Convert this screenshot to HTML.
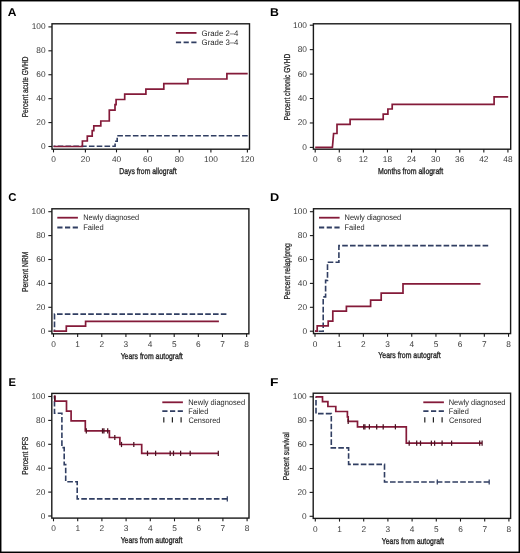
<!DOCTYPE html><html><head><meta charset="utf-8"><style>html,body{margin:0;padding:0;background:#fff;}svg{display:block;will-change:transform;text-rendering:geometricPrecision;}</style></head><body>
<svg width="520" height="553" viewBox="0 0 520 553" font-family='"Liberation Sans", sans-serif'>
<rect x="0" y="0" width="520" height="553" fill="#fff"/>
<rect x="0.7" y="0.7" width="518.6" height="551.6" fill="none" stroke="#000" stroke-width="1.5"/>
<text x="7.80" y="15.90" font-size="11.3" font-weight="bold" fill="#000" textLength="8.72" lengthAdjust="spacingAndGlyphs">A</text>
<rect x="52" y="23.8" width="197.50" height="125.40" fill="none" stroke="#1a1a1a" stroke-width="1.4"/>
<line x1="48.40" y1="146.50" x2="52" y2="146.50" stroke="#1a1a1a" stroke-width="1.1"/>
<text x="45.50" y="149.00" font-size="8.3" text-anchor="end" fill="#383838">0</text>
<line x1="48.40" y1="122.58" x2="52" y2="122.58" stroke="#1a1a1a" stroke-width="1.1"/>
<text x="45.50" y="125.08" font-size="8.3" text-anchor="end" fill="#383838">20</text>
<line x1="48.40" y1="98.66" x2="52" y2="98.66" stroke="#1a1a1a" stroke-width="1.1"/>
<text x="45.50" y="101.16" font-size="8.3" text-anchor="end" fill="#383838">40</text>
<line x1="48.40" y1="74.74" x2="52" y2="74.74" stroke="#1a1a1a" stroke-width="1.1"/>
<text x="45.50" y="77.24" font-size="8.3" text-anchor="end" fill="#383838">60</text>
<line x1="48.40" y1="50.82" x2="52" y2="50.82" stroke="#1a1a1a" stroke-width="1.1"/>
<text x="45.50" y="53.32" font-size="8.3" text-anchor="end" fill="#383838">80</text>
<line x1="48.40" y1="26.90" x2="52" y2="26.90" stroke="#1a1a1a" stroke-width="1.1"/>
<text x="45.50" y="29.40" font-size="8.3" text-anchor="end" fill="#383838">100</text>
<line x1="53.50" y1="149.2" x2="53.50" y2="152.40" stroke="#1a1a1a" stroke-width="1.1"/>
<text x="53.50" y="161.80" font-size="8.3" text-anchor="middle" fill="#383838">0</text>
<line x1="85.40" y1="149.2" x2="85.40" y2="152.40" stroke="#1a1a1a" stroke-width="1.1"/>
<text x="85.40" y="161.80" font-size="8.3" text-anchor="middle" fill="#383838">20</text>
<line x1="116.50" y1="149.2" x2="116.50" y2="152.40" stroke="#1a1a1a" stroke-width="1.1"/>
<text x="116.50" y="161.80" font-size="8.3" text-anchor="middle" fill="#383838">40</text>
<line x1="147.70" y1="149.2" x2="147.70" y2="152.40" stroke="#1a1a1a" stroke-width="1.1"/>
<text x="147.70" y="161.80" font-size="8.3" text-anchor="middle" fill="#383838">60</text>
<line x1="179.30" y1="149.2" x2="179.30" y2="152.40" stroke="#1a1a1a" stroke-width="1.1"/>
<text x="179.30" y="161.80" font-size="8.3" text-anchor="middle" fill="#383838">80</text>
<line x1="210.90" y1="149.2" x2="210.90" y2="152.40" stroke="#1a1a1a" stroke-width="1.1"/>
<text x="210.90" y="161.80" font-size="8.3" text-anchor="middle" fill="#383838">100</text>
<line x1="247.40" y1="149.2" x2="247.40" y2="152.40" stroke="#1a1a1a" stroke-width="1.1"/>
<text x="247.40" y="161.80" font-size="8.3" text-anchor="middle" fill="#383838">120</text>
<text x="28.30" y="117.23" font-size="8.6" fill="#2a2a2a" textLength="60.74" lengthAdjust="spacingAndGlyphs" transform="rotate(-90 28.30 117.23)" stroke="#2a2a2a" stroke-width="0.3">Percent acute GVHD</text>
<text x="119.24" y="173.50" font-size="8.6" font-weight="normal" fill="#2a2a2a" textLength="57.31" lengthAdjust="spacingAndGlyphs" stroke="#2a2a2a" stroke-width="0.35">Days from allograft</text>
<path d="M53.50,146.30 L115.10,146.30 L115.10,141.30 L117.20,141.30 L117.20,135.70 L247.70,135.70" fill="none" stroke="#303e62" stroke-width="1.6" stroke-linejoin="miter" stroke-linecap="butt" stroke-dasharray="5.6 2.2" stroke-dashoffset="3.60"/>
<path d="M53.50,146.50 L82.40,146.50 L82.40,141.00 L87.30,141.00 L87.30,136.10 L92.20,136.10 L92.20,130.70 L93.80,130.70 L93.80,125.90 L100.80,125.90 L100.80,121.00 L109.30,121.00 L109.30,110.10 L115.00,110.10 L115.00,104.70 L116.10,104.70 L116.10,99.50 L124.70,99.50 L124.70,94.10 L145.90,94.10 L145.90,89.10 L163.80,89.10 L163.80,83.70 L187.90,83.70 L187.90,79.00 L226.90,79.00 L226.90,73.60 L247.70,73.60" fill="none" stroke="#841a39" stroke-width="1.7" stroke-linejoin="miter" stroke-linecap="butt"/>
<line x1="175.9" y1="32.9" x2="196.50" y2="32.9" stroke="#841a39" stroke-width="1.8"/>
<line x1="175.9" y1="42.4" x2="196.50" y2="42.4" stroke="#303e62" stroke-width="1.8" stroke-dasharray="5.2 2.5"/>
<text x="201.61" y="35.50" font-size="8.0" font-weight="normal" fill="#1e1e1e" textLength="36.82" lengthAdjust="spacingAndGlyphs">Grade 2–4</text>
<text x="201.61" y="44.70" font-size="8.0" font-weight="normal" fill="#1e1e1e" textLength="36.82" lengthAdjust="spacingAndGlyphs">Grade 3–4</text>
<text x="269.98" y="15.90" font-size="11.3" font-weight="bold" fill="#000" textLength="8.88" lengthAdjust="spacingAndGlyphs">B</text>
<rect x="313.4" y="23.8" width="197.30" height="125.40" fill="none" stroke="#1a1a1a" stroke-width="1.4"/>
<line x1="309.80" y1="147.40" x2="313.4" y2="147.40" stroke="#1a1a1a" stroke-width="1.1"/>
<text x="306.90" y="149.90" font-size="8.3" text-anchor="end" fill="#383838">0</text>
<line x1="309.80" y1="122.96" x2="313.4" y2="122.96" stroke="#1a1a1a" stroke-width="1.1"/>
<text x="306.90" y="125.46" font-size="8.3" text-anchor="end" fill="#383838">20</text>
<line x1="309.80" y1="98.52" x2="313.4" y2="98.52" stroke="#1a1a1a" stroke-width="1.1"/>
<text x="306.90" y="101.02" font-size="8.3" text-anchor="end" fill="#383838">40</text>
<line x1="309.80" y1="74.08" x2="313.4" y2="74.08" stroke="#1a1a1a" stroke-width="1.1"/>
<text x="306.90" y="76.58" font-size="8.3" text-anchor="end" fill="#383838">60</text>
<line x1="309.80" y1="49.64" x2="313.4" y2="49.64" stroke="#1a1a1a" stroke-width="1.1"/>
<text x="306.90" y="52.14" font-size="8.3" text-anchor="end" fill="#383838">80</text>
<line x1="309.80" y1="25.20" x2="313.4" y2="25.20" stroke="#1a1a1a" stroke-width="1.1"/>
<text x="306.90" y="27.70" font-size="8.3" text-anchor="end" fill="#383838">100</text>
<line x1="315.20" y1="149.2" x2="315.20" y2="152.40" stroke="#1a1a1a" stroke-width="1.1"/>
<text x="315.20" y="161.80" font-size="8.3" text-anchor="middle" fill="#383838">0</text>
<line x1="339.29" y1="149.2" x2="339.29" y2="152.40" stroke="#1a1a1a" stroke-width="1.1"/>
<text x="339.29" y="161.80" font-size="8.3" text-anchor="middle" fill="#383838">6</text>
<line x1="363.38" y1="149.2" x2="363.38" y2="152.40" stroke="#1a1a1a" stroke-width="1.1"/>
<text x="363.38" y="161.80" font-size="8.3" text-anchor="middle" fill="#383838">12</text>
<line x1="387.47" y1="149.2" x2="387.47" y2="152.40" stroke="#1a1a1a" stroke-width="1.1"/>
<text x="387.47" y="161.80" font-size="8.3" text-anchor="middle" fill="#383838">18</text>
<line x1="411.56" y1="149.2" x2="411.56" y2="152.40" stroke="#1a1a1a" stroke-width="1.1"/>
<text x="411.56" y="161.80" font-size="8.3" text-anchor="middle" fill="#383838">24</text>
<line x1="435.65" y1="149.2" x2="435.65" y2="152.40" stroke="#1a1a1a" stroke-width="1.1"/>
<text x="435.65" y="161.80" font-size="8.3" text-anchor="middle" fill="#383838">30</text>
<line x1="459.74" y1="149.2" x2="459.74" y2="152.40" stroke="#1a1a1a" stroke-width="1.1"/>
<text x="459.74" y="161.80" font-size="8.3" text-anchor="middle" fill="#383838">36</text>
<line x1="483.83" y1="149.2" x2="483.83" y2="152.40" stroke="#1a1a1a" stroke-width="1.1"/>
<text x="483.83" y="161.80" font-size="8.3" text-anchor="middle" fill="#383838">42</text>
<line x1="507.92" y1="149.2" x2="507.92" y2="152.40" stroke="#1a1a1a" stroke-width="1.1"/>
<text x="507.92" y="161.80" font-size="8.3" text-anchor="middle" fill="#383838">48</text>
<text x="290.00" y="120.44" font-size="8.6" fill="#2a2a2a" textLength="66.66" lengthAdjust="spacingAndGlyphs" transform="rotate(-90 290.00 120.44)" stroke="#2a2a2a" stroke-width="0.3">Percent chronic GVHD</text>
<text x="377.93" y="173.80" font-size="8.6" font-weight="normal" fill="#2a2a2a" textLength="65.22" lengthAdjust="spacingAndGlyphs" stroke="#2a2a2a" stroke-width="0.35">Months from allograft</text>
<path d="M315.20,147.40 L332.40,147.40 L333.60,133.50 L337.00,133.50 L337.00,124.30 L350.10,124.30 L350.10,119.40 L383.20,119.40 L383.20,114.20 L387.90,114.20 L387.90,109.00 L392.20,109.00 L392.20,104.30 L494.10,104.30 L494.10,96.80 L508.20,96.80" fill="none" stroke="#841a39" stroke-width="1.7" stroke-linejoin="miter" stroke-linecap="butt"/>
<text x="8.23" y="200.90" font-size="11.3" font-weight="bold" fill="#000" textLength="8.28" lengthAdjust="spacingAndGlyphs">C</text>
<rect x="51.9" y="208.8" width="197.00" height="125.00" fill="none" stroke="#1a1a1a" stroke-width="1.4"/>
<line x1="48.30" y1="331.20" x2="51.9" y2="331.20" stroke="#1a1a1a" stroke-width="1.1"/>
<text x="45.40" y="333.70" font-size="8.3" text-anchor="end" fill="#383838">0</text>
<line x1="48.30" y1="307.30" x2="51.9" y2="307.30" stroke="#1a1a1a" stroke-width="1.1"/>
<text x="45.40" y="309.80" font-size="8.3" text-anchor="end" fill="#383838">20</text>
<line x1="48.30" y1="283.40" x2="51.9" y2="283.40" stroke="#1a1a1a" stroke-width="1.1"/>
<text x="45.40" y="285.90" font-size="8.3" text-anchor="end" fill="#383838">40</text>
<line x1="48.30" y1="259.50" x2="51.9" y2="259.50" stroke="#1a1a1a" stroke-width="1.1"/>
<text x="45.40" y="262.00" font-size="8.3" text-anchor="end" fill="#383838">60</text>
<line x1="48.30" y1="235.60" x2="51.9" y2="235.60" stroke="#1a1a1a" stroke-width="1.1"/>
<text x="45.40" y="238.10" font-size="8.3" text-anchor="end" fill="#383838">80</text>
<line x1="48.30" y1="211.70" x2="51.9" y2="211.70" stroke="#1a1a1a" stroke-width="1.1"/>
<text x="45.40" y="214.20" font-size="8.3" text-anchor="end" fill="#383838">100</text>
<line x1="53.50" y1="333.8" x2="53.50" y2="337.00" stroke="#1a1a1a" stroke-width="1.1"/>
<text x="53.50" y="347.00" font-size="8.3" text-anchor="middle" fill="#383838">0</text>
<line x1="77.64" y1="333.8" x2="77.64" y2="337.00" stroke="#1a1a1a" stroke-width="1.1"/>
<text x="77.64" y="347.00" font-size="8.3" text-anchor="middle" fill="#383838">1</text>
<line x1="101.78" y1="333.8" x2="101.78" y2="337.00" stroke="#1a1a1a" stroke-width="1.1"/>
<text x="101.78" y="347.00" font-size="8.3" text-anchor="middle" fill="#383838">2</text>
<line x1="125.92" y1="333.8" x2="125.92" y2="337.00" stroke="#1a1a1a" stroke-width="1.1"/>
<text x="125.92" y="347.00" font-size="8.3" text-anchor="middle" fill="#383838">3</text>
<line x1="150.06" y1="333.8" x2="150.06" y2="337.00" stroke="#1a1a1a" stroke-width="1.1"/>
<text x="150.06" y="347.00" font-size="8.3" text-anchor="middle" fill="#383838">4</text>
<line x1="174.20" y1="333.8" x2="174.20" y2="337.00" stroke="#1a1a1a" stroke-width="1.1"/>
<text x="174.20" y="347.00" font-size="8.3" text-anchor="middle" fill="#383838">5</text>
<line x1="198.34" y1="333.8" x2="198.34" y2="337.00" stroke="#1a1a1a" stroke-width="1.1"/>
<text x="198.34" y="347.00" font-size="8.3" text-anchor="middle" fill="#383838">6</text>
<line x1="222.48" y1="333.8" x2="222.48" y2="337.00" stroke="#1a1a1a" stroke-width="1.1"/>
<text x="222.48" y="347.00" font-size="8.3" text-anchor="middle" fill="#383838">7</text>
<line x1="246.62" y1="333.8" x2="246.62" y2="337.00" stroke="#1a1a1a" stroke-width="1.1"/>
<text x="246.62" y="347.00" font-size="8.3" text-anchor="middle" fill="#383838">8</text>
<text x="27.80" y="291.95" font-size="8.6" fill="#2a2a2a" textLength="40.30" lengthAdjust="spacingAndGlyphs" transform="rotate(-90 27.80 291.95)" stroke="#2a2a2a" stroke-width="0.3">Percent NRM</text>
<text x="120.65" y="358.50" font-size="8.6" font-weight="normal" fill="#2a2a2a" textLength="62.10" lengthAdjust="spacingAndGlyphs" stroke="#2a2a2a" stroke-width="0.35">Years from autograft</text>
<path d="M53.80,331.20 L54.50,331.20 L54.50,314.10 L226.40,314.10" fill="none" stroke="#303e62" stroke-width="1.6" stroke-linejoin="miter" stroke-linecap="butt" stroke-dasharray="5.6 2.2" stroke-dashoffset="3.10"/>
<path d="M53.50,331.20 L66.30,331.20 L66.30,326.20 L85.60,326.20 L85.60,321.30 L218.90,321.30" fill="none" stroke="#841a39" stroke-width="1.7" stroke-linejoin="miter" stroke-linecap="butt"/>
<line x1="57.3" y1="217.7" x2="77.90" y2="217.7" stroke="#841a39" stroke-width="1.8"/>
<line x1="57.3" y1="227.5" x2="77.90" y2="227.5" stroke="#303e62" stroke-width="1.8" stroke-dasharray="5.2 2.5"/>
<text x="83.15" y="220.00" font-size="8.0" font-weight="normal" fill="#1e1e1e" textLength="56.08" lengthAdjust="spacingAndGlyphs">Newly diagnosed</text>
<text x="83.13" y="229.75" font-size="8.0" font-weight="normal" fill="#1e1e1e" textLength="20.50" lengthAdjust="spacingAndGlyphs">Failed</text>
<text x="270.05" y="200.70" font-size="11.3" font-weight="bold" fill="#000" textLength="9.18" lengthAdjust="spacingAndGlyphs">D</text>
<rect x="313.5" y="208.75" width="197.10" height="124.85" fill="none" stroke="#1a1a1a" stroke-width="1.4"/>
<line x1="309.90" y1="331.20" x2="313.5" y2="331.20" stroke="#1a1a1a" stroke-width="1.1"/>
<text x="307.00" y="333.70" font-size="8.3" text-anchor="end" fill="#383838">0</text>
<line x1="309.90" y1="307.30" x2="313.5" y2="307.30" stroke="#1a1a1a" stroke-width="1.1"/>
<text x="307.00" y="309.80" font-size="8.3" text-anchor="end" fill="#383838">20</text>
<line x1="309.90" y1="283.40" x2="313.5" y2="283.40" stroke="#1a1a1a" stroke-width="1.1"/>
<text x="307.00" y="285.90" font-size="8.3" text-anchor="end" fill="#383838">40</text>
<line x1="309.90" y1="259.50" x2="313.5" y2="259.50" stroke="#1a1a1a" stroke-width="1.1"/>
<text x="307.00" y="262.00" font-size="8.3" text-anchor="end" fill="#383838">60</text>
<line x1="309.90" y1="235.60" x2="313.5" y2="235.60" stroke="#1a1a1a" stroke-width="1.1"/>
<text x="307.00" y="238.10" font-size="8.3" text-anchor="end" fill="#383838">80</text>
<line x1="309.90" y1="211.70" x2="313.5" y2="211.70" stroke="#1a1a1a" stroke-width="1.1"/>
<text x="307.00" y="214.20" font-size="8.3" text-anchor="end" fill="#383838">100</text>
<line x1="315.00" y1="333.6" x2="315.00" y2="336.80" stroke="#1a1a1a" stroke-width="1.1"/>
<text x="315.00" y="346.80" font-size="8.3" text-anchor="middle" fill="#383838">0</text>
<line x1="339.19" y1="333.6" x2="339.19" y2="336.80" stroke="#1a1a1a" stroke-width="1.1"/>
<text x="339.19" y="346.80" font-size="8.3" text-anchor="middle" fill="#383838">1</text>
<line x1="363.38" y1="333.6" x2="363.38" y2="336.80" stroke="#1a1a1a" stroke-width="1.1"/>
<text x="363.38" y="346.80" font-size="8.3" text-anchor="middle" fill="#383838">2</text>
<line x1="387.57" y1="333.6" x2="387.57" y2="336.80" stroke="#1a1a1a" stroke-width="1.1"/>
<text x="387.57" y="346.80" font-size="8.3" text-anchor="middle" fill="#383838">3</text>
<line x1="411.76" y1="333.6" x2="411.76" y2="336.80" stroke="#1a1a1a" stroke-width="1.1"/>
<text x="411.76" y="346.80" font-size="8.3" text-anchor="middle" fill="#383838">4</text>
<line x1="435.95" y1="333.6" x2="435.95" y2="336.80" stroke="#1a1a1a" stroke-width="1.1"/>
<text x="435.95" y="346.80" font-size="8.3" text-anchor="middle" fill="#383838">5</text>
<line x1="460.14" y1="333.6" x2="460.14" y2="336.80" stroke="#1a1a1a" stroke-width="1.1"/>
<text x="460.14" y="346.80" font-size="8.3" text-anchor="middle" fill="#383838">6</text>
<line x1="484.33" y1="333.6" x2="484.33" y2="336.80" stroke="#1a1a1a" stroke-width="1.1"/>
<text x="484.33" y="346.80" font-size="8.3" text-anchor="middle" fill="#383838">7</text>
<line x1="508.52" y1="333.6" x2="508.52" y2="336.80" stroke="#1a1a1a" stroke-width="1.1"/>
<text x="508.52" y="346.80" font-size="8.3" text-anchor="middle" fill="#383838">8</text>
<text x="289.60" y="299.46" font-size="8.6" fill="#2a2a2a" textLength="56.40" lengthAdjust="spacingAndGlyphs" transform="rotate(-90 289.60 299.46)" stroke="#2a2a2a" stroke-width="0.3">Percent relap/prog</text>
<text x="378.35" y="358.40" font-size="8.6" font-weight="normal" fill="#2a2a2a" textLength="62.20" lengthAdjust="spacingAndGlyphs" stroke="#2a2a2a" stroke-width="0.35">Years from autograft</text>
<path d="M315.00,331.20 L323.20,331.20 L323.20,296.90 L325.60,296.90 L325.60,280.40 L327.50,280.40 L327.50,262.30 L338.90,262.30 L338.90,245.60 L488.20,245.60" fill="none" stroke="#303e62" stroke-width="1.6" stroke-linejoin="miter" stroke-linecap="butt" stroke-dasharray="5.6 2.2" stroke-dashoffset="4.20"/>
<path d="M315.00,331.20 L317.20,331.20 L317.20,325.80 L328.20,325.80 L328.20,321.20 L332.80,321.20 L332.80,311.10 L346.40,311.10 L346.40,306.40 L370.60,306.40 L370.60,300.10 L381.20,300.10 L381.20,293.10 L403.00,293.10 L403.00,283.90 L480.50,283.90" fill="none" stroke="#841a39" stroke-width="1.7" stroke-linejoin="miter" stroke-linecap="butt"/>
<line x1="319.0" y1="217.7" x2="339.60" y2="217.7" stroke="#841a39" stroke-width="1.8"/>
<line x1="319.0" y1="227.5" x2="339.60" y2="227.5" stroke="#303e62" stroke-width="1.8" stroke-dasharray="5.2 2.5"/>
<text x="344.59" y="220.00" font-size="8.0" font-weight="normal" fill="#1e1e1e" textLength="56.69" lengthAdjust="spacingAndGlyphs">Newly diagnosed</text>
<text x="344.60" y="229.75" font-size="8.0" font-weight="normal" fill="#1e1e1e" textLength="20.08" lengthAdjust="spacingAndGlyphs">Failed</text>
<text x="8.45" y="385.90" font-size="11.3" font-weight="bold" fill="#000" textLength="7.49" lengthAdjust="spacingAndGlyphs">E</text>
<rect x="51.8" y="393.4" width="197.20" height="124.70" fill="none" stroke="#1a1a1a" stroke-width="1.4"/>
<line x1="48.20" y1="516.00" x2="51.8" y2="516.00" stroke="#1a1a1a" stroke-width="1.1"/>
<text x="45.30" y="518.50" font-size="8.3" text-anchor="end" fill="#383838">0</text>
<line x1="48.20" y1="492.10" x2="51.8" y2="492.10" stroke="#1a1a1a" stroke-width="1.1"/>
<text x="45.30" y="494.60" font-size="8.3" text-anchor="end" fill="#383838">20</text>
<line x1="48.20" y1="468.20" x2="51.8" y2="468.20" stroke="#1a1a1a" stroke-width="1.1"/>
<text x="45.30" y="470.70" font-size="8.3" text-anchor="end" fill="#383838">40</text>
<line x1="48.20" y1="444.30" x2="51.8" y2="444.30" stroke="#1a1a1a" stroke-width="1.1"/>
<text x="45.30" y="446.80" font-size="8.3" text-anchor="end" fill="#383838">60</text>
<line x1="48.20" y1="420.40" x2="51.8" y2="420.40" stroke="#1a1a1a" stroke-width="1.1"/>
<text x="45.30" y="422.90" font-size="8.3" text-anchor="end" fill="#383838">80</text>
<line x1="48.20" y1="396.50" x2="51.8" y2="396.50" stroke="#1a1a1a" stroke-width="1.1"/>
<text x="45.30" y="399.00" font-size="8.3" text-anchor="end" fill="#383838">100</text>
<line x1="53.50" y1="518.1" x2="53.50" y2="521.30" stroke="#1a1a1a" stroke-width="1.1"/>
<text x="53.50" y="531.30" font-size="8.3" text-anchor="middle" fill="#383838">0</text>
<line x1="77.70" y1="518.1" x2="77.70" y2="521.30" stroke="#1a1a1a" stroke-width="1.1"/>
<text x="77.70" y="531.30" font-size="8.3" text-anchor="middle" fill="#383838">1</text>
<line x1="101.90" y1="518.1" x2="101.90" y2="521.30" stroke="#1a1a1a" stroke-width="1.1"/>
<text x="101.90" y="531.30" font-size="8.3" text-anchor="middle" fill="#383838">2</text>
<line x1="126.10" y1="518.1" x2="126.10" y2="521.30" stroke="#1a1a1a" stroke-width="1.1"/>
<text x="126.10" y="531.30" font-size="8.3" text-anchor="middle" fill="#383838">3</text>
<line x1="150.30" y1="518.1" x2="150.30" y2="521.30" stroke="#1a1a1a" stroke-width="1.1"/>
<text x="150.30" y="531.30" font-size="8.3" text-anchor="middle" fill="#383838">4</text>
<line x1="174.50" y1="518.1" x2="174.50" y2="521.30" stroke="#1a1a1a" stroke-width="1.1"/>
<text x="174.50" y="531.30" font-size="8.3" text-anchor="middle" fill="#383838">5</text>
<line x1="198.70" y1="518.1" x2="198.70" y2="521.30" stroke="#1a1a1a" stroke-width="1.1"/>
<text x="198.70" y="531.30" font-size="8.3" text-anchor="middle" fill="#383838">6</text>
<line x1="222.90" y1="518.1" x2="222.90" y2="521.30" stroke="#1a1a1a" stroke-width="1.1"/>
<text x="222.90" y="531.30" font-size="8.3" text-anchor="middle" fill="#383838">7</text>
<line x1="247.10" y1="518.1" x2="247.10" y2="521.30" stroke="#1a1a1a" stroke-width="1.1"/>
<text x="247.10" y="531.30" font-size="8.3" text-anchor="middle" fill="#383838">8</text>
<text x="27.80" y="474.75" font-size="8.6" fill="#2a2a2a" textLength="37.96" lengthAdjust="spacingAndGlyphs" transform="rotate(-90 27.80 474.75)" stroke="#2a2a2a" stroke-width="0.3">Percent PFS</text>
<text x="120.65" y="543.10" font-size="8.6" font-weight="normal" fill="#2a2a2a" textLength="61.70" lengthAdjust="spacingAndGlyphs" stroke="#2a2a2a" stroke-width="0.35">Years from autograft</text>
<path d="M54.50,396.30 L54.50,396.30 L54.50,413.30 L61.90,413.30 L61.90,447.60 L64.20,447.60 L64.20,464.60 L65.70,464.60 L65.70,481.70 L77.20,481.70 L77.20,498.90 L227.30,498.90" fill="none" stroke="#303e62" stroke-width="1.6" stroke-linejoin="miter" stroke-linecap="butt" stroke-dasharray="5.6 2.2" stroke-dashoffset="3.20"/>
<line x1="227.30" y1="496.30" x2="227.30" y2="501.50" stroke="#303e62" stroke-width="1.25"/>
<path d="M53.80,396.30 L55.00,396.30 L55.00,401.20 L66.50,401.20 L66.50,411.10 L71.10,411.10 L71.10,420.90 L85.30,420.90 L85.30,430.90 L109.40,430.90 L109.40,437.50 L119.90,437.50 L119.90,444.50 L141.70,444.50 L141.70,453.30 L218.30,453.30" fill="none" stroke="#841a39" stroke-width="1.7" stroke-linejoin="miter" stroke-linecap="butt"/>
<line x1="54.60" y1="395.60" x2="54.60" y2="400.80" stroke="#4a1020" stroke-width="1.25"/>
<line x1="86.30" y1="428.30" x2="86.30" y2="433.50" stroke="#4a1020" stroke-width="1.25"/>
<line x1="102.50" y1="428.30" x2="102.50" y2="433.50" stroke="#4a1020" stroke-width="1.25"/>
<line x1="103.90" y1="428.30" x2="103.90" y2="433.50" stroke="#4a1020" stroke-width="1.25"/>
<line x1="107.70" y1="428.30" x2="107.70" y2="433.50" stroke="#4a1020" stroke-width="1.25"/>
<line x1="114.80" y1="434.90" x2="114.80" y2="440.10" stroke="#4a1020" stroke-width="1.25"/>
<line x1="121.50" y1="441.90" x2="121.50" y2="447.10" stroke="#4a1020" stroke-width="1.25"/>
<line x1="133.80" y1="441.90" x2="133.80" y2="447.10" stroke="#4a1020" stroke-width="1.25"/>
<line x1="147.50" y1="450.70" x2="147.50" y2="455.90" stroke="#4a1020" stroke-width="1.25"/>
<line x1="155.60" y1="450.70" x2="155.60" y2="455.90" stroke="#4a1020" stroke-width="1.25"/>
<line x1="170.20" y1="450.70" x2="170.20" y2="455.90" stroke="#4a1020" stroke-width="1.25"/>
<line x1="173.50" y1="450.70" x2="173.50" y2="455.90" stroke="#4a1020" stroke-width="1.25"/>
<line x1="180.60" y1="450.70" x2="180.60" y2="455.90" stroke="#4a1020" stroke-width="1.25"/>
<line x1="190.20" y1="450.70" x2="190.20" y2="455.90" stroke="#4a1020" stroke-width="1.25"/>
<line x1="218.30" y1="450.70" x2="218.30" y2="455.90" stroke="#4a1020" stroke-width="1.25"/>
<line x1="162.3" y1="402.3" x2="182.90" y2="402.3" stroke="#841a39" stroke-width="1.8"/>
<line x1="162.3" y1="411.1" x2="182.90" y2="411.1" stroke="#303e62" stroke-width="1.8" stroke-dasharray="5.2 2.5"/>
<line x1="163.80" y1="417.30" x2="163.80" y2="422.50" stroke="#222" stroke-width="1.2"/>
<line x1="172.40" y1="417.30" x2="172.40" y2="422.50" stroke="#222" stroke-width="1.2"/>
<line x1="181.10" y1="417.30" x2="181.10" y2="422.50" stroke="#222" stroke-width="1.2"/>
<text x="188.19" y="405.00" font-size="8.0" font-weight="normal" fill="#1e1e1e" textLength="56.89" lengthAdjust="spacingAndGlyphs">Newly diagnosed</text>
<text x="188.20" y="413.80" font-size="8.0" font-weight="normal" fill="#1e1e1e" textLength="20.08" lengthAdjust="spacingAndGlyphs">Failed</text>
<text x="188.43" y="422.80" font-size="8.0" font-weight="normal" fill="#1e1e1e" textLength="31.95" lengthAdjust="spacingAndGlyphs">Censored</text>
<text x="269.98" y="385.90" font-size="11.3" font-weight="bold" fill="#000" textLength="8.43" lengthAdjust="spacingAndGlyphs">F</text>
<rect x="313.2" y="393.2" width="197.40" height="125.20" fill="none" stroke="#1a1a1a" stroke-width="1.4"/>
<line x1="309.60" y1="516.30" x2="313.2" y2="516.30" stroke="#1a1a1a" stroke-width="1.1"/>
<text x="306.70" y="518.80" font-size="8.3" text-anchor="end" fill="#383838">0</text>
<line x1="309.60" y1="492.40" x2="313.2" y2="492.40" stroke="#1a1a1a" stroke-width="1.1"/>
<text x="306.70" y="494.90" font-size="8.3" text-anchor="end" fill="#383838">20</text>
<line x1="309.60" y1="468.50" x2="313.2" y2="468.50" stroke="#1a1a1a" stroke-width="1.1"/>
<text x="306.70" y="471.00" font-size="8.3" text-anchor="end" fill="#383838">40</text>
<line x1="309.60" y1="444.60" x2="313.2" y2="444.60" stroke="#1a1a1a" stroke-width="1.1"/>
<text x="306.70" y="447.10" font-size="8.3" text-anchor="end" fill="#383838">60</text>
<line x1="309.60" y1="420.70" x2="313.2" y2="420.70" stroke="#1a1a1a" stroke-width="1.1"/>
<text x="306.70" y="423.20" font-size="8.3" text-anchor="end" fill="#383838">80</text>
<line x1="309.60" y1="396.80" x2="313.2" y2="396.80" stroke="#1a1a1a" stroke-width="1.1"/>
<text x="306.70" y="399.30" font-size="8.3" text-anchor="end" fill="#383838">100</text>
<line x1="315.30" y1="518.4" x2="315.30" y2="521.60" stroke="#1a1a1a" stroke-width="1.1"/>
<text x="315.30" y="531.60" font-size="8.3" text-anchor="middle" fill="#383838">0</text>
<line x1="339.50" y1="518.4" x2="339.50" y2="521.60" stroke="#1a1a1a" stroke-width="1.1"/>
<text x="339.50" y="531.60" font-size="8.3" text-anchor="middle" fill="#383838">1</text>
<line x1="363.70" y1="518.4" x2="363.70" y2="521.60" stroke="#1a1a1a" stroke-width="1.1"/>
<text x="363.70" y="531.60" font-size="8.3" text-anchor="middle" fill="#383838">2</text>
<line x1="387.90" y1="518.4" x2="387.90" y2="521.60" stroke="#1a1a1a" stroke-width="1.1"/>
<text x="387.90" y="531.60" font-size="8.3" text-anchor="middle" fill="#383838">3</text>
<line x1="412.10" y1="518.4" x2="412.10" y2="521.60" stroke="#1a1a1a" stroke-width="1.1"/>
<text x="412.10" y="531.60" font-size="8.3" text-anchor="middle" fill="#383838">4</text>
<line x1="436.30" y1="518.4" x2="436.30" y2="521.60" stroke="#1a1a1a" stroke-width="1.1"/>
<text x="436.30" y="531.60" font-size="8.3" text-anchor="middle" fill="#383838">5</text>
<line x1="460.50" y1="518.4" x2="460.50" y2="521.60" stroke="#1a1a1a" stroke-width="1.1"/>
<text x="460.50" y="531.60" font-size="8.3" text-anchor="middle" fill="#383838">6</text>
<line x1="484.70" y1="518.4" x2="484.70" y2="521.60" stroke="#1a1a1a" stroke-width="1.1"/>
<text x="484.70" y="531.60" font-size="8.3" text-anchor="middle" fill="#383838">7</text>
<line x1="508.90" y1="518.4" x2="508.90" y2="521.60" stroke="#1a1a1a" stroke-width="1.1"/>
<text x="508.90" y="531.60" font-size="8.3" text-anchor="middle" fill="#383838">8</text>
<text x="289.50" y="480.35" font-size="8.6" fill="#2a2a2a" textLength="48.00" lengthAdjust="spacingAndGlyphs" transform="rotate(-90 289.50 480.35)" stroke="#2a2a2a" stroke-width="0.3">Percent survival</text>
<text x="381.85" y="543.80" font-size="8.6" font-weight="normal" fill="#2a2a2a" textLength="62.00" lengthAdjust="spacingAndGlyphs" stroke="#2a2a2a" stroke-width="0.35">Years from autograft</text>
<path d="M316.00,396.80 L316.00,396.80 L316.00,413.60 L331.30,413.60 L331.30,447.90 L348.60,447.90 L348.60,464.40 L384.50,464.40 L384.50,482.00 L489.20,482.00" fill="none" stroke="#303e62" stroke-width="1.6" stroke-linejoin="miter" stroke-linecap="butt" stroke-dasharray="5.6 2.2" stroke-dashoffset="4.60"/>
<line x1="437.30" y1="479.40" x2="437.30" y2="484.60" stroke="#303e62" stroke-width="1.25"/>
<line x1="489.20" y1="479.40" x2="489.20" y2="484.60" stroke="#303e62" stroke-width="1.25"/>
<path d="M315.60,396.80 L322.50,396.80 L322.50,401.60 L327.90,401.60 L327.90,406.50 L335.80,406.50 L335.80,411.50 L347.40,411.50 L347.40,416.80 L348.20,416.80 L348.20,421.30 L357.50,421.30 L357.50,426.80 L406.30,426.80 L406.30,443.20 L482.10,443.20" fill="none" stroke="#841a39" stroke-width="1.7" stroke-linejoin="miter" stroke-linecap="butt"/>
<line x1="348.20" y1="418.70" x2="348.20" y2="423.90" stroke="#4a1020" stroke-width="1.25"/>
<line x1="363.70" y1="424.20" x2="363.70" y2="429.40" stroke="#4a1020" stroke-width="1.25"/>
<line x1="364.90" y1="424.20" x2="364.90" y2="429.40" stroke="#4a1020" stroke-width="1.25"/>
<line x1="369.40" y1="424.20" x2="369.40" y2="429.40" stroke="#4a1020" stroke-width="1.25"/>
<line x1="376.70" y1="424.20" x2="376.70" y2="429.40" stroke="#4a1020" stroke-width="1.25"/>
<line x1="383.20" y1="424.20" x2="383.20" y2="429.40" stroke="#4a1020" stroke-width="1.25"/>
<line x1="395.40" y1="424.20" x2="395.40" y2="429.40" stroke="#4a1020" stroke-width="1.25"/>
<line x1="409.20" y1="440.60" x2="409.20" y2="445.80" stroke="#4a1020" stroke-width="1.25"/>
<line x1="416.70" y1="440.60" x2="416.70" y2="445.80" stroke="#4a1020" stroke-width="1.25"/>
<line x1="420.50" y1="440.60" x2="420.50" y2="445.80" stroke="#4a1020" stroke-width="1.25"/>
<line x1="431.40" y1="440.60" x2="431.40" y2="445.80" stroke="#4a1020" stroke-width="1.25"/>
<line x1="434.60" y1="440.60" x2="434.60" y2="445.80" stroke="#4a1020" stroke-width="1.25"/>
<line x1="442.10" y1="440.60" x2="442.10" y2="445.80" stroke="#4a1020" stroke-width="1.25"/>
<line x1="451.60" y1="440.60" x2="451.60" y2="445.80" stroke="#4a1020" stroke-width="1.25"/>
<line x1="479.70" y1="440.60" x2="479.70" y2="445.80" stroke="#4a1020" stroke-width="1.25"/>
<line x1="482.10" y1="440.60" x2="482.10" y2="445.80" stroke="#4a1020" stroke-width="1.25"/>
<line x1="423.3" y1="402.3" x2="443.90" y2="402.3" stroke="#841a39" stroke-width="1.8"/>
<line x1="423.3" y1="411.1" x2="443.90" y2="411.1" stroke="#303e62" stroke-width="1.8" stroke-dasharray="5.2 2.5"/>
<line x1="424.80" y1="417.30" x2="424.80" y2="422.50" stroke="#222" stroke-width="1.2"/>
<line x1="433.40" y1="417.30" x2="433.40" y2="422.50" stroke="#222" stroke-width="1.2"/>
<line x1="442.10" y1="417.30" x2="442.10" y2="422.50" stroke="#222" stroke-width="1.2"/>
<text x="448.69" y="405.00" font-size="8.0" font-weight="normal" fill="#1e1e1e" textLength="56.79" lengthAdjust="spacingAndGlyphs">Newly diagnosed</text>
<text x="448.70" y="413.80" font-size="8.0" font-weight="normal" fill="#1e1e1e" textLength="20.08" lengthAdjust="spacingAndGlyphs">Failed</text>
<text x="448.92" y="422.80" font-size="8.0" font-weight="normal" fill="#1e1e1e" textLength="32.46" lengthAdjust="spacingAndGlyphs">Censored</text>
</svg></body></html>
